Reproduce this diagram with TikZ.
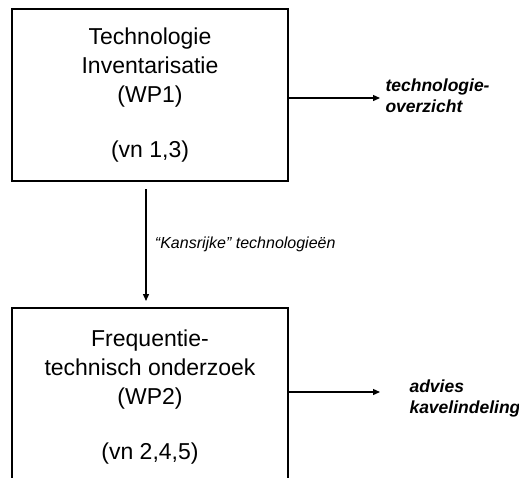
\documentclass[tikz,border=0pt]{standalone}
\usepackage{fontspec}
\setmainfont{Liberation Sans}
\usetikzlibrary{arrows.meta,calc}
\begin{document}
\begin{tikzpicture}[x=1pt,y=-1pt,
  wpbox/.style={draw,line width=2pt,minimum width=276pt,align=center,
    font=\fontsize{23}{29}\selectfont,inner sep=0pt},
  outlabel/.style={anchor=west,align=left,font=\fontsize{17.5}{21}\selectfont\bfseries\itshape},
  flow/.style={line width=1.3pt,-{Triangle[length=7pt,width=6pt]}}]
\clip (0,0) rectangle (519,477);
\useasboundingbox (0,0) rectangle (519,477);
% work package boxes
\node[wpbox,minimum height=172pt] (wp1) at (150,95)
  {Technologie\\Inventarisatie\\(WP1)\\[26pt](vn 1,3)};
\node[wpbox,minimum height=178pt] (wp2) at (150,397)
  {Frequentie-\\technisch onderzoek\\(WP2)\\[26pt](vn 2,4,5)};
% outputs
\node[outlabel] (out1) at (382,96) {technologie-\\overzicht};
\node[outlabel] (out2) at (406,398) {advies\\kavelindeling};
\coordinate (e1) at (380,98);
\coordinate (e2) at (380,392);
\draw[flow] (wp1.east |- e1) -- (e1);
\draw[flow] (wp2.east |- e2) -- (e2);
% link between the work packages
\draw[flow,shorten <=7pt,shorten >=6pt] ($(wp1.south)+(-4,0)$) -- ($(wp2.north)+(-4,0)$)
  node[midway,right=5pt,font=\fontsize{16}{19}\selectfont\itshape] (lbl) {“Kansrijke” technologieën};
\end{tikzpicture}
\end{document}
